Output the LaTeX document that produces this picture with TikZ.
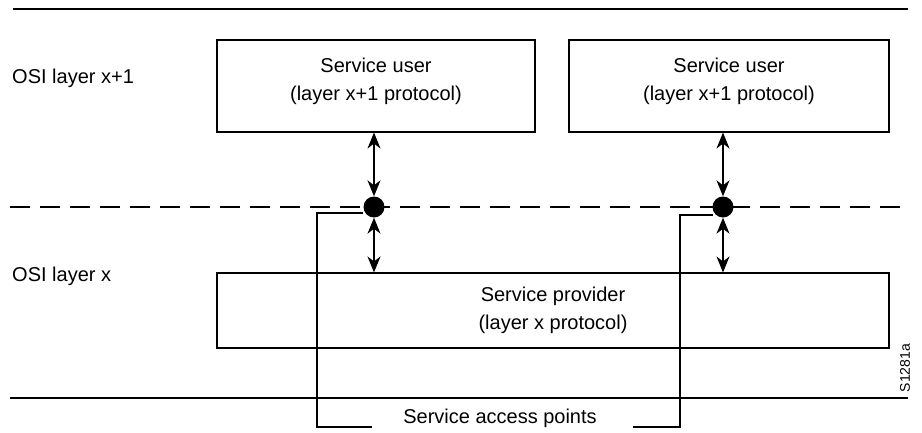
\documentclass[tikz,border=0pt]{standalone}
\usepackage{fontspec}
\setmainfont{Liberation Sans}
\usetikzlibrary{arrows.meta}
\begin{document}
\begin{tikzpicture}[x=1pt,y=-1pt,
  line/.style={line width=1.1pt},
  boxn/.style={draw, line width=1.1pt, align=center, font=\fontsize{20}{28}\selectfont, inner sep=0pt},
  lbl/.style={font=\fontsize{20}{24}\selectfont, inner sep=0pt},
  dot/.style={circle, fill=black, minimum size=21pt, inner sep=0pt},
  dbl/.style={line width=1.1pt, {Stealth[length=16pt,width=13pt,inset=5pt]}-{Stealth[length=16pt,width=13pt,inset=5pt]}}
]
\useasboundingbox (0,0) rectangle (922,432);
% horizontal rules
\coordinate (tl) at (13,9); \coordinate (tr) at (908,9);
\draw[line] (tl) -- (tr);
\coordinate (dl) at (10,207); \coordinate (dr) at (908,207);
\draw[line, dash pattern=on 20pt off 10pt] (dl) -- (dr);
\coordinate (bl) at (10,398); \coordinate (br) at (908,398);
\draw[line] (bl) -- (br);
% boxes
\node[boxn, minimum width=318pt, minimum height=92pt] (u1) at (376,86) {};
\node[boxn, minimum width=320pt, minimum height=92pt] (u2) at (729,86) {};
\node[boxn, minimum width=672pt, minimum height=75pt] (prov) at (553,310.5) {};
\node[boxn, draw=none] (t1) at (376,81) {Service user\\(layer x+1 protocol)};
\node[boxn, draw=none] (t2) at (729,81) {Service user\\(layer x+1 protocol)};
\node[boxn, draw=none] (t3) at (553,310) {Service provider\\(layer x protocol)};
% labels
\node[lbl, anchor=west] (l1) at (12,78) {OSI layer x+1};
\node[lbl, anchor=west] (l0) at (12,276) {OSI layer x};
% dots
\node[dot] (d1) at (374,207) {};
\node[dot] (d2) at (723,207) {};
% arrows
\draw[dbl] (d1 |- u1.south) -- (d1.north);
\draw[dbl] (d1.south) -- (d1 |- prov.north);
\draw[dbl] (d2 |- u2.south) -- (d2.north);
\draw[dbl] (d2.south) -- (d2 |- prov.north);
% brackets
\node[lbl] (sap) at (500,418) {Service access points};
\coordinate (a1) at (363,213); \coordinate (a2) at (317,213); \coordinate (a3) at (317,427); \coordinate (a4) at (372,427);
\draw[line] (a1) -- (a2) -- (a3) -- (a4);
\coordinate (b1) at (713,215); \coordinate (b2) at (680,215); \coordinate (b3) at (680,427); \coordinate (b4) at (633,427);
\draw[line] (b1) -- (b2) -- (b3) -- (b4);
% figure id
\node[font=\fontsize{14}{16}\selectfont, rotate=90, inner sep=0pt] (fid) at (905,368) {S1281a};
\end{tikzpicture}
\end{document}
